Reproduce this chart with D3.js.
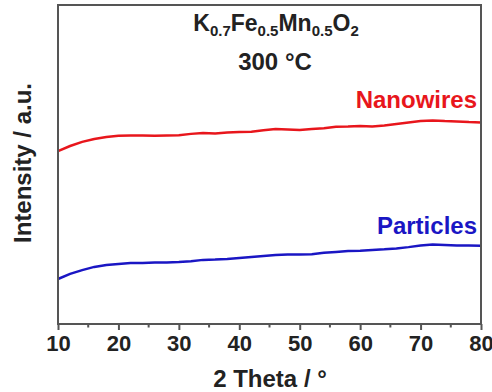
<!DOCTYPE html>
<html>
<head>
<meta charset="utf-8">
<script src="https://cdn.jsdelivr.net/npm/d3@7"></script>
<style>
  body { margin: 0; background: #fff; }
  svg { display: block; font-family: Arial, "Liberation Sans", sans-serif; font-weight: bold; }
</style>
</head>
<body>
<svg id="chart" width="492" height="392"></svg>
<script>
// XRD patterns, 2 theta (deg) vs intensity (arbitrary units)
const twoTheta = [10, 12, 14, 16, 18, 20, 22, 24, 26, 28, 30, 32, 34, 36, 38, 40, 42, 44,
  46, 48, 50, 52, 54, 56, 58, 60, 62, 64, 66, 68, 70, 72, 74, 76, 78, 80];
const nanowires = [54.2, 55.8, 57.1, 58.0, 58.6, 59.0, 59.1, 59.1, 59.0, 59.1, 59.2, 59.6,
  59.9, 59.7, 60.0, 60.2, 60.3, 60.7, 61.1, 61.0, 60.8, 61.1, 61.4, 61.8, 61.9, 62.1,
  61.9, 62.2, 62.7, 63.2, 63.6, 63.8, 63.6, 63.5, 63.3, 63.2];
const particles = [14.1, 15.7, 16.9, 17.9, 18.5, 18.8, 19.1, 19.1, 19.3, 19.3, 19.4, 19.7,
  20.1, 20.2, 20.4, 20.7, 21.0, 21.3, 21.6, 21.8, 21.8, 21.9, 22.3, 22.6, 22.9, 23.0,
  23.2, 23.4, 23.7, 24.1, 24.6, 24.9, 24.8, 24.6, 24.6, 24.5];
const xTicks = [10, 20, 30, 40, 50, 60, 70, 80];
const xMinor = [15, 25, 35, 45, 55, 65, 75];

const svg = d3.select('#chart');
const plotL = 58, plotR = 481, plotT = 5, plotB = 324;

const x = d3.scaleLinear().domain([10, 80]).range([plotL, plotR]);
const y = d3.scaleLinear().domain([0, 100]).range([plotB, plotT]);

// curves
const line = d3.line().x((d, i) => x(twoTheta[i])).y(d => y(d));
svg.append('path').datum(nanowires)
  .attr('d', line).attr('fill', 'none')
  .attr('stroke', '#e8161c').attr('stroke-width', 2.5);
svg.append('path').datum(particles)
  .attr('d', line).attr('fill', 'none')
  .attr('stroke', '#1a16c4').attr('stroke-width', 2.5);

// frame
svg.append('rect')
  .attr('x', plotL).attr('y', plotT)
  .attr('width', plotR - plotL).attr('height', plotB - plotT)
  .attr('fill', 'none').attr('stroke', '#555').attr('stroke-width', 2);

// x axis
const xAxis = svg.append('g').attr('transform', `translate(0,${plotB})`)
  .call(d3.axisBottom(x).tickValues(xTicks).tickSize(6).tickPadding(5).tickFormat(d3.format('d')));
xAxis.select('.domain').remove();
xAxis.selectAll('line').attr('stroke', '#555').attr('stroke-width', 2);
xAxis.selectAll('text').attr('font-size', 22).attr('font-family', 'Arial, "Liberation Sans", sans-serif')
  .attr('font-weight', 'bold').attr('fill', '#222');

svg.append('g').attr('transform', `translate(0,${plotB})`)
  .selectAll('line').data(xMinor).join('line')
  .attr('x1', d => x(d)).attr('x2', d => x(d))
  .attr('y1', 0).attr('y2', 3.5)
  .attr('stroke', '#555').attr('stroke-width', 2);

// labels
svg.append('text').attr('x', 270).attr('y', 387)
  .attr('text-anchor', 'middle').attr('font-size', 24).attr('fill', '#222')
  .text('2 Theta / °');

svg.append('text')
  .attr('transform', 'translate(31,163) rotate(-90)')
  .attr('text-anchor', 'middle').attr('font-size', 24).attr('fill', '#222')
  .text('Intensity / a.u.');

const title = svg.append('text').attr('x', 276).attr('y', 31)
  .attr('text-anchor', 'middle').attr('font-size', 23).attr('fill', '#222');
[['K', false], ['0.7', true], ['Fe', false], ['0.5', true], ['Mn', false], ['0.5', true], ['O', false], ['2', true]]
  .forEach(([t, sub], i, arr) => {
    const prevSub = i > 0 && arr[i - 1][1];
    const ts = title.append('tspan').text(t);
    if (sub) ts.attr('font-size', 15).attr('dy', 5);
    else if (prevSub) ts.attr('dy', -5);
  });

svg.append('text').attr('x', 275).attr('y', 70)
  .attr('text-anchor', 'middle').attr('font-size', 24).attr('fill', '#222')
  .text('300 °C');

svg.append('text').attr('x', 477).attr('y', 108)
  .attr('text-anchor', 'end').attr('font-size', 24).attr('fill', '#e8161c')
  .text('Nanowires');
svg.append('text').attr('x', 477).attr('y', 234)
  .attr('text-anchor', 'end').attr('font-size', 24).attr('fill', '#1a16c4')
  .text('Particles');
</script>
</body>
</html>
